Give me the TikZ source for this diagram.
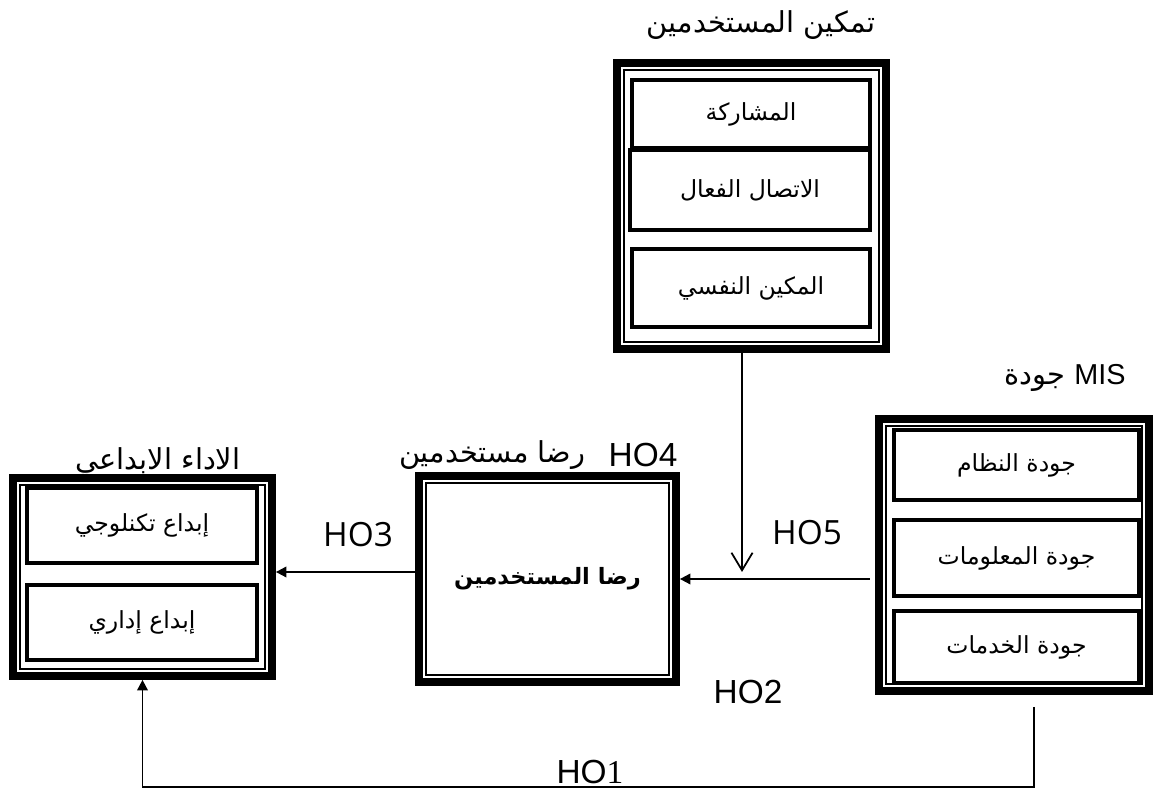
\documentclass[tikz,border=0pt]{standalone}
\usepackage{fontspec}
\setmainfont{Liberation Sans}
\newfontfamily\arabe[Script=Arabic]{DejaVu Sans}
\newfontfamily\osans{Open Sans}
\newfontfamily\tnr{Liberation Serif}
\TeXXeTstate=1
\usetikzlibrary{calc,positioning,arrows.meta}
\tikzset{
    cadre/.style={draw, line width=2.2pt, inner sep=0pt,
      path picture={\draw[line width=0.45pt] ([shift={(0.07,0.07)}]path picture bounding box.south west) rectangle ([shift={(-0.07,-0.07)}]path picture bounding box.north east);}},
    case/.style={draw, line width=1.2pt, inner sep=0pt, font=\arabe\fontsize{6.7}{8}\selectfont},
    titre/.style={font=\arabe\fontsize{8.2}{10}\selectfont, inner sep=0pt},
    ho/.style={font=\fontsize{9.5}{11}\selectfont, inner sep=0pt},
    fleche/.style={line width=0.5pt, -{Triangle[length=3pt,width=3pt]}},
  }
\begin{document}
\begin{tikzpicture}
				  \useasboundingbox (0,0) rectangle (11.57,7.94);
				  
				  %tamkin
				  \node[titre] (ttamkin) at (7.61,7.69) {\beginR تمكين المستخدمين\endR};
				  \node[cadre, minimum width=2.69cm, minimum height=2.86cm] (tamkin) at (7.515,5.88) {};
				  \node[case, minimum width=2.38cm, minimum height=0.68cm] (mosharaka) at (7.51,6.80) {\beginR المشاركة\endR};
				  \node[case, minimum width=2.40cm, minimum height=0.80cm] (ittisal) at (7.50,6.04) {\beginR الاتصال الفعال\endR};
				  \node[case, minimum width=2.38cm, minimum height=0.78cm] (nafsi) at (7.51,5.06) {\beginR المكين النفسي\endR};
				  
				  %MIS
				  \node[titre] (tmis) at (10.65,4.16) {\beginR جودة\endR\ {\rmfamily MIS}};
				  \node[cadre, minimum width=2.70cm, minimum height=2.72cm] (mis) at (10.14,2.39) {};
				  \node[case, minimum width=2.45cm, minimum height=0.70cm] (nidham) at (10.165,3.29) {\beginR جودة النظام\endR};
				  \node[case, minimum width=2.45cm, minimum height=0.76cm] (maaloumat) at (10.165,2.36) {\beginR جودة المعلومات\endR};
				  \node[case, minimum width=2.45cm, minimum height=0.72cm] (khadamat) at (10.165,1.47) {\beginR جودة الخدمات\endR};
				  
				  %rida
				  \node[titre] (tsatis) at (4.92,3.39) {\beginR رضا مستخدمين\endR};
				  \node[ho] (ho4) at (6.43,3.39) {HO4};
				  \node[cadre, minimum width=2.57cm, minimum height=2.06cm, font=\arabe\bfseries\fontsize{6.4}{8}\selectfont] (satis) at (5.475,2.15) {\beginR رضا المستخدمين\endR};
				  
				  %adaa
				  \node[titre] (tperf) at (1.58,3.32) {\beginR الاداء الابداعي\endR};
				  \node[cadre, minimum width=2.59cm, minimum height=1.98cm] (perf) at (1.425,2.17) {};
				  \node[case, minimum width=2.30cm, minimum height=0.75cm] (tech) at (1.42,2.685) {\beginR إبداع تكنلوجي\endR};
				  \node[case, minimum width=2.30cm, minimum height=0.75cm] (idari) at (1.42,1.715) {\beginR إبداع إداري\endR};
				  
				  %fleches
				  \coordinate (pointe) at (7.42,2.22);
				  \draw[line width=0.5pt, -{Straight Barb[length=5pt,width=6pt]}] (tamkin.south -| pointe) -- (pointe);
				  \draw[fleche, shorten <=1.5pt] (mis.west |- satis.east) -- (satis.east);
				  \coordinate (g) at ([yshift=0.07cm]satis.west);
				  \draw[fleche] (g) -- (g -| perf.east);
				  \coordinate (depart) at ([xshift=0.2cm,yshift=-0.12cm]mis.south);
				  \coordinate (bas) at (0,0.07);
				  \draw[fleche] (depart) |- (bas -| perf.south) -- (perf.south);
				  
				  %hypotheses
				  \node[ho, font=\osans\fontsize{9.5}{11}\selectfont] (ho3) at (3.58,2.59) {HO3};
				  \node[ho, font=\osans\fontsize{9.5}{11}\selectfont] (ho5) at (8.07,2.61) {HO5};
				  \node[ho] (ho2) at (7.48,1.02) {HO2};
				  \node[ho] (ho1) at (5.90,0.22) {HO{\tnr 1}};
				  \end{tikzpicture}
\end{document}
